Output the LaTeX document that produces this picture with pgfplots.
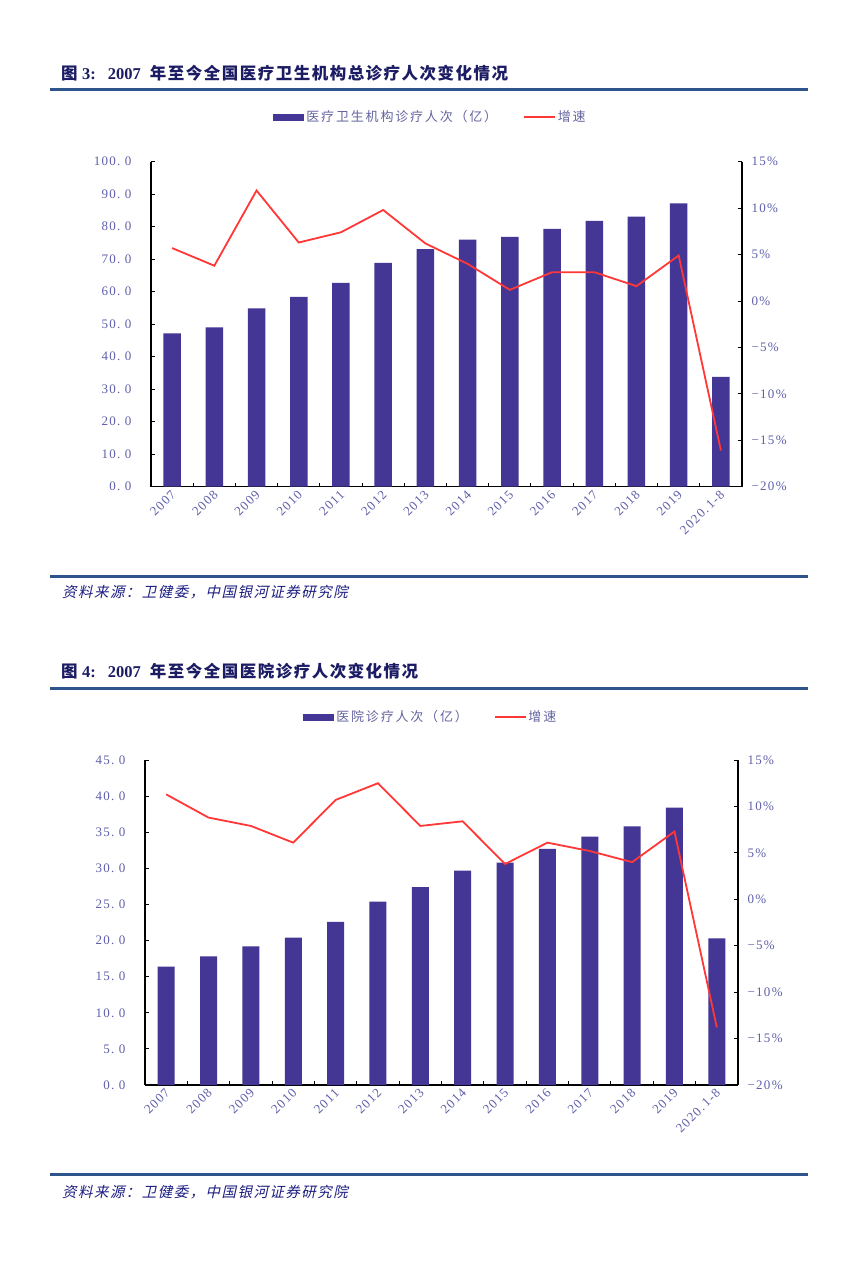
\documentclass[border=0pt]{standalone}
\usepackage{pgfplots}
\usepackage{pgfplotstable}
\pgfplotsset{compat=1.18}
\usepackage{fontspec}
\setmainfont{Liberation Serif}
\newfontfamily\tickf[LetterSpace=10]{Liberation Serif}
\newfontfamily\cjkt[LetterSpace=9]{Noto Sans CJK SC}
\newfontfamily\cjkl[LetterSpace=14]{Noto Sans CJK SC}
\newfontfamily\cjks[LetterSpace=10,FakeSlant=0.22]{Noto Sans CJK SC}

\definecolor{barc}{RGB}{67,54,148}
\definecolor{linec}{RGB}{255,55,55}
\definecolor{tickc}{RGB}{95,95,170}
\definecolor{titlec}{RGB}{28,28,100}
\definecolor{rulec}{RGB}{45,85,140}
\definecolor{srcc}{RGB}{30,30,130}
\definecolor{legc}{RGB}{100,100,160}

\pgfplotstableread{
x v g
0 47.2 5.7
1 49.0 3.8
2 54.9 11.9
3 58.4 6.3
4 62.7 7.4
5 68.9 9.8
6 73.1 6.2
7 76.0 4.0
8 76.9 1.2
9 79.3 3.1
10 81.8 3.1
11 83.1 1.6
12 87.2 4.9
13 33.8 -16.1
}\dataA

\pgfplotstableread{
x v g
0 16.4 11.3
1 17.8 8.8
2 19.2 7.9
3 20.4 6.1
4 22.6 10.7
5 25.4 12.5
6 27.4 7.9
7 29.7 8.4
8 30.8 3.8
9 32.7 6.1
10 34.4 5.2
11 35.8 4.0
12 38.4 7.3
13 20.3 -13.8
}\dataB

\pgfplotsset{
  basestyle/.style={
    scale only axis, xmin=-0.5, xmax=13.5,
    tick align=inside, major tick length=4pt, minor tick length=4pt,
    axis line style={black, line width=1.2pt},
    tick style={black, line width=0.9pt},
    ticklabel style={font=\tickf\fontsize{13}{15}\selectfont, text=tickc},
  },
  baraxis/.style={
    basestyle,
    axis x line*=bottom, axis y line*=left,
    ymin=0,
    xtick={0,...,13},
    xticklabels={2007,2008,2009,2010,2011,2012,2013,2014,2015,2016,2017,2018,2019,{2020.\,1-8}},
    major x tick style={draw=none},
    minor xtick={0.5,1.5,...,12.5},
    xticklabel style={rotate=45, anchor=east, xshift=-2pt, yshift=-5pt, inner sep=1pt},
    yticklabel style={xshift=-16pt},
    legend columns=2,
    legend style={draw=none, fill=none, font=\cjkl\fontsize{13}{15}\selectfont, text=legc,
      /tikz/every even column/.append style={column sep=24pt},
      cells={anchor=west}},
  },
  lineaxis/.style={
    basestyle,
    axis y line*=right, axis x line=none,
    ymin=-20, ymax=15,
    ytick={-20,-15,...,15},
    yticklabels={−20\%,−15\%,−10\%,−5\%,0\%,5\%,10\%,15\%},
    yticklabel style={xshift=6pt},
  },
  barleg/.style={legend image code/.code={\fill[barc] (0pt,-3.5pt) rectangle (31pt,3.5pt);}},
  lineleg/.style={legend image code/.code={\draw[linec, line width=1.6pt] (0pt,0pt) -- (31pt,0pt);}},
}

\begin{document}
\begin{tikzpicture}[x=1pt,y=1pt]
\fill[white] (0,0) rectangle (866,-1270);

% ---------- Chart 3 ----------
\node[anchor=west, text=titlec, inner sep=0pt] at (61,-73)
  {\fontsize{16.5}{18}\selectfont{\cjkt\bfseries 图}\hspace{3pt}\textbf{3:}\hspace{12pt}\textbf{2007}\hspace{9pt}{\cjkt\bfseries 年至今全国医疗卫生机构总诊疗人次变化情况}};
\draw[rulec, line width=3pt] (50,-89) -- (808,-89);

\begin{axis}[baraxis, at={(151pt,-486.7pt)}, anchor=south west, width=591pt, height=325pt,
  ymax=100, ytick={0,10,...,100},
  yticklabels={0.\ 0,10.\ 0,20.\ 0,30.\ 0,40.\ 0,50.\ 0,60.\ 0,70.\ 0,80.\ 0,90.\ 0,100.\ 0},
  legend style={at={(0.473,1.1375)}, anchor=center}]
\addplot[ybar, bar width=17.5pt, fill=barc, draw=none, barleg] table[x=x,y=v]{\dataA};
\addlegendentry{医疗卫生机构诊疗人次（亿）}
\addlegendimage{lineleg}
\addlegendentry{增速}
\end{axis}
\begin{axis}[lineaxis, at={(151pt,-486.7pt)}, anchor=south west, width=591pt, height=325pt]
\addplot[linec, line width=1.8pt, mark=none] table[x=x,y=g]{\dataA};
\end{axis}

\draw[rulec, line width=3pt] (50,-576) -- (808,-576);
\node[anchor=west, text=srcc, inner sep=0pt] at (62,-592)
  {\cjks\fontsize{14.5}{16}\selectfont 资料来源：卫健委，中国银河证券研究院};

% ---------- Chart 4 ----------
\node[anchor=west, text=titlec, inner sep=0pt] at (61,-671)
  {\fontsize{16.5}{18}\selectfont{\cjkt\bfseries 图}\hspace{3pt}\textbf{4:}\hspace{12pt}\textbf{2007}\hspace{9pt}{\cjkt\bfseries 年至今全国医院诊疗人次变化情况}};
\draw[rulec, line width=3pt] (50,-688) -- (808,-688);

\begin{axis}[baraxis, at={(145pt,-1085pt)}, anchor=south west, width=593pt, height=325pt,
  ymax=45, ytick={0,5,...,45},
  yticklabels={0.\ 0,5.\ 0,10.\ 0,15.\ 0,20.\ 0,25.\ 0,30.\ 0,35.\ 0,40.\ 0,45.\ 0},
  legend style={at={(0.482,1.132)}, anchor=center}]
\addplot[ybar, bar width=17pt, fill=barc, draw=none, barleg] table[x=x,y=v]{\dataB};
\addlegendentry{医院诊疗人次（亿）}
\addlegendimage{lineleg}
\addlegendentry{增速}
\end{axis}
\begin{axis}[lineaxis, at={(145pt,-1085pt)}, anchor=south west, width=593pt, height=325pt]
\addplot[linec, line width=1.8pt, mark=none] table[x=x,y=g]{\dataB};
\end{axis}

\draw[rulec, line width=3pt] (50,-1174) -- (808,-1174);
\node[anchor=west, text=srcc, inner sep=0pt] at (62,-1192)
  {\cjks\fontsize{14.5}{16}\selectfont 资料来源：卫健委，中国银河证券研究院};
\end{tikzpicture}
\end{document}
